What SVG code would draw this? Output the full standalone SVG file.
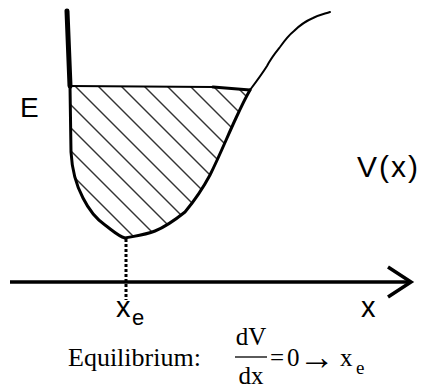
<svg xmlns="http://www.w3.org/2000/svg" width="424" height="388" viewBox="0 0 424 388">
<style>
.curve{fill:none;stroke:#000;stroke-width:3;stroke-linejoin:round;stroke-linecap:round}
.thin{fill:none;stroke:#000;stroke-width:2;stroke-linecap:round}
.hatch{stroke:#333;stroke-width:1.4}
.sans{font-family:"Liberation Sans",Arial,sans-serif;fill:#000}
.serif{font-family:"Liberation Serif","Times New Roman",serif;fill:#000}
</style>
<defs>
<clipPath id="well">
<path d="M70,86 L213,87 L250,90 C246,97 242,105 236,118 C228,135 220,155 210,175 C202,190 195,200 185,212 C175,220 165,227 155,231 C145,235 135,236 125,238 C118,236 112,230 105,225 C95,218 88,208 83,198 C76,185 72,170 71,152 Z"/>
</clipPath>
</defs>
<g id="hatching" clip-path="url(#well)">
<line class="hatch" x1="-23" y1="80" x2="142" y2="245"/>
<line class="hatch" x1="0" y1="80" x2="165" y2="245"/>
<line class="hatch" x1="23" y1="80" x2="188" y2="245"/>
<line class="hatch" x1="46" y1="80" x2="211" y2="245"/>
<line class="hatch" x1="69" y1="80" x2="234" y2="245"/>
<line class="hatch" x1="92" y1="80" x2="257" y2="245"/>
<line class="hatch" x1="115" y1="80" x2="280" y2="245"/>
<line class="hatch" x1="138" y1="80" x2="303" y2="245"/>
<line class="hatch" x1="161" y1="80" x2="326" y2="245"/>
<line class="hatch" x1="184" y1="80" x2="349" y2="245"/>
<line class="hatch" x1="207" y1="80" x2="372" y2="245"/>
<line class="hatch" x1="230" y1="80" x2="395" y2="245"/>
</g>
<g id="potential">
<path d="M67,11 L70,86" fill="none" stroke="#000" stroke-width="5" stroke-linecap="round"/>
<path class="curve" d="M70,86 L71,152 C72,170 76,185 83,198 C88,208 95,218 105,225 C112,230 118,236 125,238 C135,236 145,235 155,231 C165,227 175,220 185,212 C195,200 202,190 210,175 C220,155 228,135 236,118 C242,105 246,97 250,90"/>
<path class="thin" d="M250,90 C256,82 262,74 267,66 C271,58 276,52 280,47 C285,40 289,35 294,31 C300,25 306,21 313,18 C319,15 324,14 330,12"/>
</g>
<g id="energy-level">
<path d="M70,86 L213,87" fill="none" stroke="#000" stroke-width="2"/>
<path d="M213,87 L250,90" fill="none" stroke="#000" stroke-width="3" stroke-linecap="round"/>
</g>
<g id="axis">
<line x1="10" y1="282" x2="411" y2="282" stroke="#000" stroke-width="3.5"/>
<polyline points="388,267 411,282 388,297" fill="none" stroke="#000" stroke-width="3.5" stroke-linejoin="miter"/>
<line x1="126" y1="239" x2="126" y2="300" stroke="#000" stroke-width="3" stroke-dasharray="3 2"/>
</g>
<g id="labels">
<text class="sans" x="20" y="117" font-size="28">E</text>
<text class="sans" x="357" y="177" font-size="30" letter-spacing="2">V(x)</text>
<text class="sans" x="361" y="317" font-size="29">x</text>
<text class="sans" x="116" y="317" font-size="29">x</text>
<text class="sans" x="132" y="325" font-size="22">e</text>
</g>
<g id="equation">
<text class="serif" x="68" y="366" font-size="26">Equilibrium:</text>
<text class="serif" x="251" y="345" font-size="25" text-anchor="middle">dV</text>
<line x1="235" y1="357" x2="267" y2="357" stroke="#000" stroke-width="1.3"/>
<text class="serif" x="251" y="384" font-size="25" text-anchor="middle">dx</text>
<text class="serif" x="270" y="366" font-size="25">=</text>
<text class="serif" x="287" y="366" font-size="25">0</text>
<text class="serif" x="299" y="369" font-size="36">→</text>
<text class="serif" x="340" y="366" font-size="25">x</text>
<text class="serif" x="356" y="374" font-size="19">e</text>
</g>
</svg>
